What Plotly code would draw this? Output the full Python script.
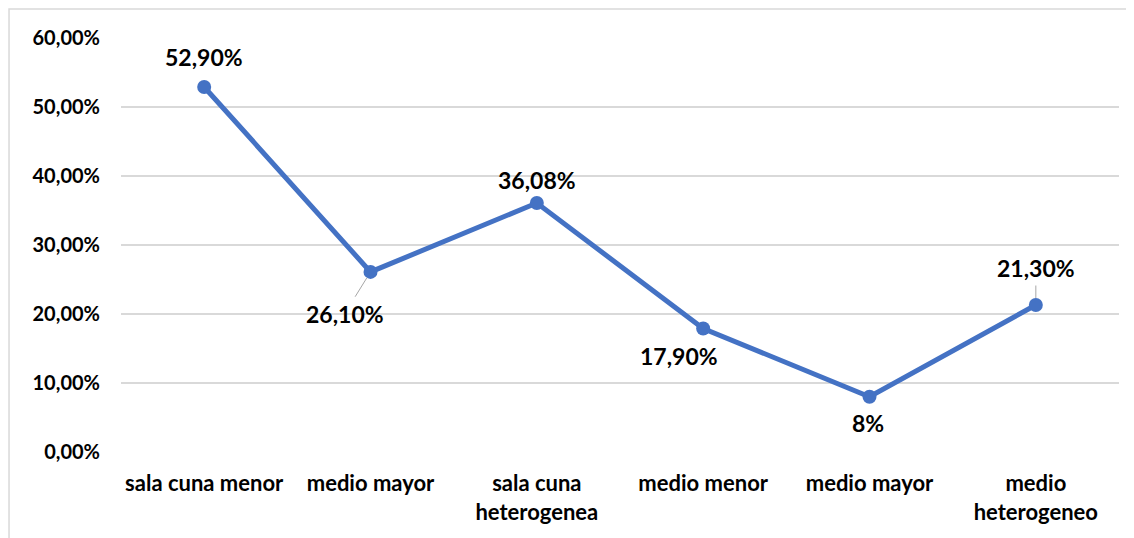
import plotly.graph_objects as go

# datos
categorias = ["sala cuna menor", "medio mayor", "sala cuna<br>heterogenea",
              "medio menor", "medio mayor", "medio<br>heterogeneo"]
valores = [52.90, 26.10, 36.08, 17.90, 8.0, 21.30]
etiquetas = ["52,90%", "26,10%", "36,08%", "17,90%", "8%", "21,30%"]
y_ticks = [0, 10, 20, 30, 40, 50, 60]
y_ticktext = ["0,00%", "10,00%", "20,00%", "30,00%", "40,00%", "50,00%", "60,00%"]

AZUL = "#4472C4"
GRIS = "#D9D9D9"
FUENTE = "Lato"

x_pos = list(range(len(categorias)))

fig = go.Figure(
    go.Scatter(
        x=x_pos,
        y=valores,
        mode="lines+markers",
        line=dict(color=AZUL, width=5),
        marker=dict(color=AZUL, size=14),
        hoverinfo="skip",
    )
)

# desplazamiento de cada etiqueta (px) y si lleva linea guia
offsets = [(0, -30), (-26, 42), (0, -23), (-24, 28), (-2, 26), (0, -37)]
guia = [False, True, False, False, False, True]
for xi, v, txt, (ax, ay), g in zip(x_pos, valores, etiquetas, offsets, guia):
    fig.add_annotation(
        x=xi, y=v, text=f"<b>{txt}</b>",
        showarrow=True, ax=ax, ay=ay,
        arrowhead=0, arrowwidth=1,
        arrowcolor="#A6A6A6" if g else "rgba(0,0,0,0)",
        standoff=7, startstandoff=2,
        font=dict(family=FUENTE, size=23, color="#000000"),
    )

# marco del grafico (estilo Excel)
fig.add_shape(type="rect", xref="paper", yref="paper",
              x0=-0.1122, x1=1.03, y0=-0.4, y1=1.070,
              line=dict(color=GRIS, width=1.5), layer="below")

# el body de la pagina tiene 8px de margen
fig.update_layout(
    width=1126, height=530,
    paper_bgcolor="white", plot_bgcolor="white",
    margin=dict(l=113, r=15, t=30, b=86),
    showlegend=False,
    font=dict(family=FUENTE, size=20, color="#000000"),
)
fig.update_xaxes(
    range=[-0.5, 5.5],
    tickvals=x_pos,
    ticktext=[f"<b>{c}</b>" for c in categorias],
    showgrid=False, zeroline=False, showline=False,
    ticks="", ticklabelstandoff=16,
    tickfont=dict(family=FUENTE, size=22, color="#000000"),
)
fig.update_yaxes(
    range=[0, 60],
    tickvals=y_ticks,
    ticktext=[f"<b>{t}</b>" for t in y_ticktext],
    showgrid=True, gridcolor=GRIS, gridwidth=1.5,
    zeroline=False, showline=False,
    ticks="", ticklabelstandoff=20,
    tickfont=dict(family=FUENTE, size=20, color="#000000"),
)

fig.write_html("out.html")
